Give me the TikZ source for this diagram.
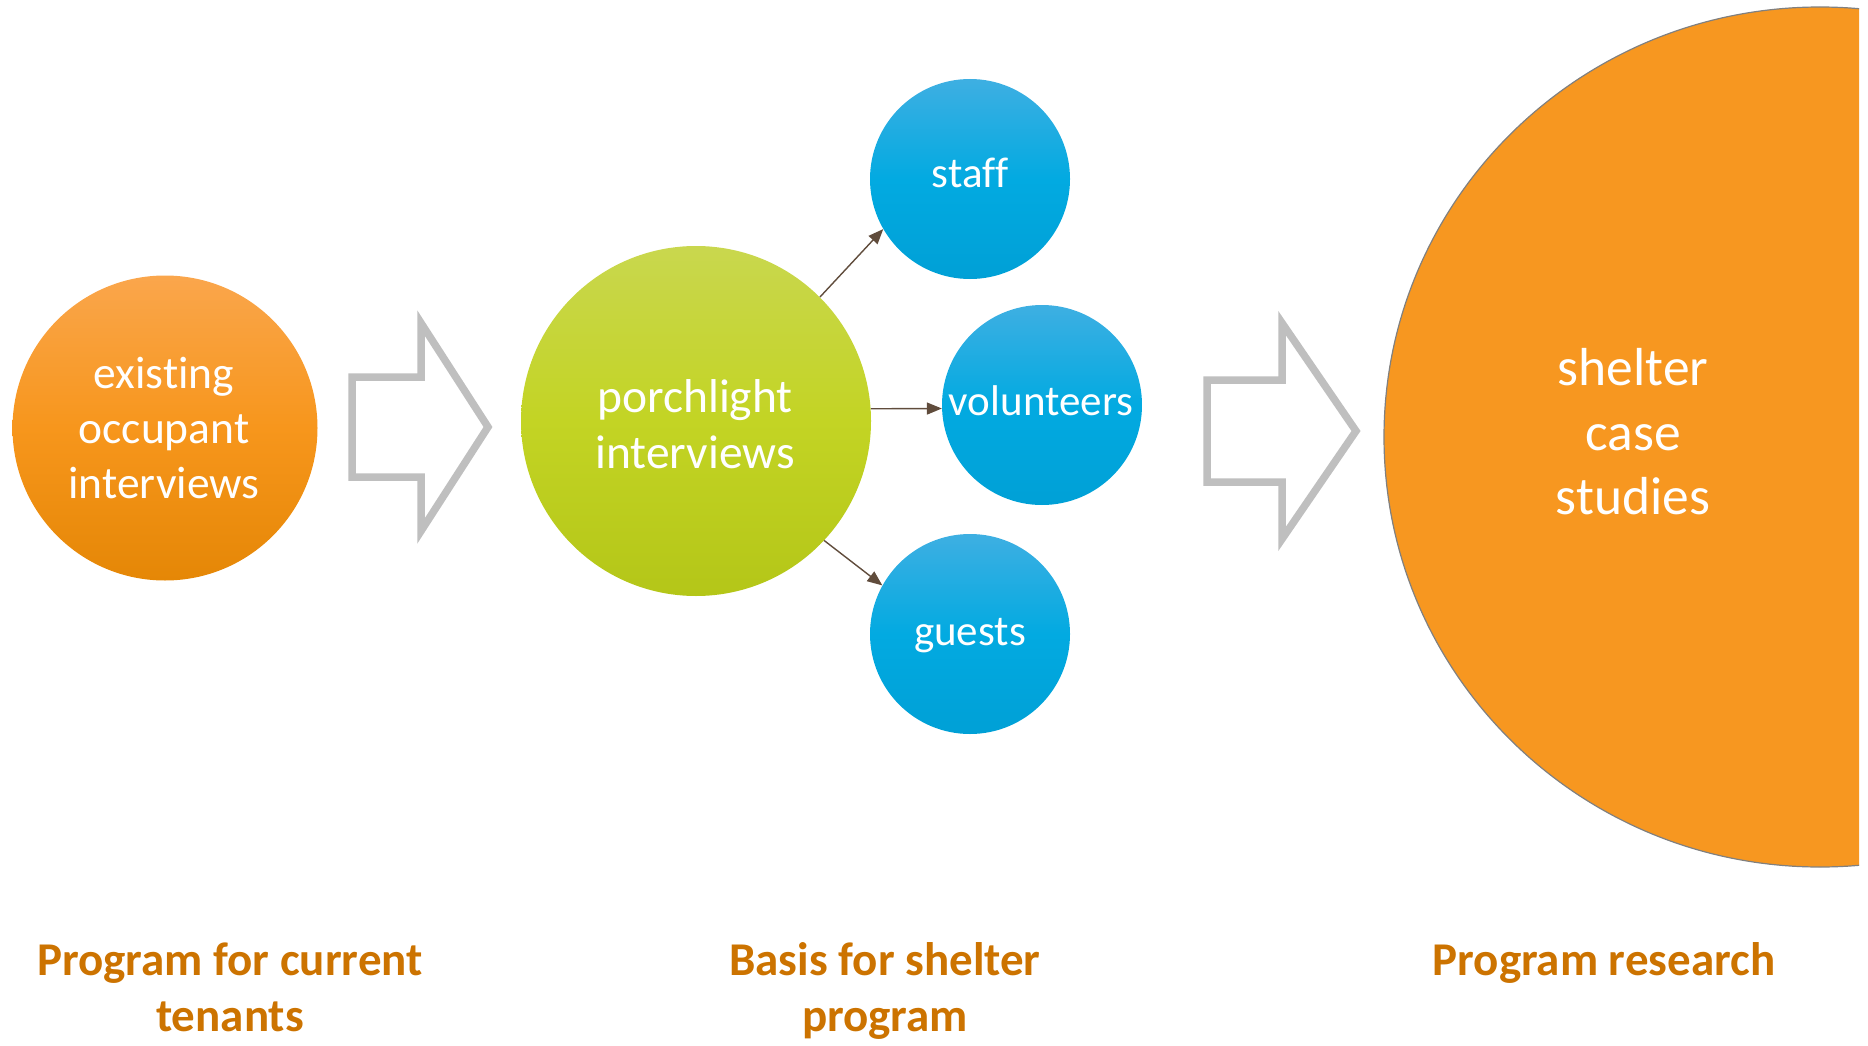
\documentclass[tikz,border=0pt]{standalone}
\usepackage{fontspec}
\setmainfont{Carlito}[Ligatures=NoCommon]
\usetikzlibrary{arrows.meta,shapes.geometric}
\definecolor{orTop}{RGB}{250,166,76}
\definecolor{orMid}{RGB}{247,150,28}
\definecolor{orBot}{RGB}{229,135,6}
\definecolor{grTop}{RGB}{201,215,78}
\definecolor{grMid}{RGB}{195,212,36}
\definecolor{grBot}{RGB}{180,198,24}
\definecolor{blTop}{RGB}{62,175,226}
\definecolor{blMid}{RGB}{2,170,225}
\definecolor{blBot}{RGB}{0,160,214}
\definecolor{bigOr}{RGB}{247,151,32}
\definecolor{bigEdge}{RGB}{128,128,128}
\definecolor{connBrown}{RGB}{96,76,60}
\definecolor{arrGray}{RGB}{191,191,191}
\definecolor{lblOr}{RGB}{204,115,0}
\begin{document}
\begin{tikzpicture}[x=1pt,y=-1pt,
  blob/.style={circle, inner sep=0pt, draw=none},
  orblob/.style={blob, top color=orTop, bottom color=orBot, middle color=orMid},
  grblob/.style={blob, top color=grTop, bottom color=grBot, middle color=grMid},
  blblob/.style={blob, top color=blTop, bottom color=blBot, middle color=blMid, minimum size=200pt},
  txt/.style={anchor=base, inner sep=0pt, text=white},
  lbl/.style={anchor=base, inner sep=0pt, text=lblOr, font=\bfseries\fontsize{47}{57}\selectfont},
  conn/.style={draw=connBrown, line width=1.4pt, -{Triangle[length=15pt,width=12pt]}},
  blockarrow/.style={draw=arrGray, line width=7.5pt, fill=white, line join=miter, miter limit=10}
]
\useasboundingbox (0,0) rectangle (1868,1046);

% big circle, clipped at right
\begin{scope}
  \clip (0,0) rectangle (1859,1046);
  \node[ellipse, inner sep=0pt, minimum width=872pt, minimum height=860pt, fill=bigOr, draw=bigEdge, line width=1.2pt] (big) at (1820,437) {};
\end{scope}

% circles
\node[orblob, minimum size=305pt] (occ) at (165,428) {};
\node[grblob, minimum size=350pt] (porch) at (696,421) {};
\node[blblob] (staff) at (970,179) {};
\node[blblob] (vol) at (1042,405) {};
\node[blblob] (guests) at (970,634) {};

% block arrows
\draw[blockarrow] (352,377) -- (421,377) -- (421,323) -- (488,427) -- (421,531) -- (421,477) -- (352,477) -- cycle;
\draw[blockarrow] (1207,380) -- (1282,380) -- (1282,323) -- (1356,431) -- (1282,539) -- (1282,482) -- (1207,482) -- cycle;

% connectors
\draw[conn] (porch.45) -- (staff.210);
\draw[conn] (porch.4) -- (vol.182);
\draw[conn] (porch.-43) -- (guests.151);

% texts in circles
\begin{scope}[every node/.append style={font=\fontsize{45.5}{55}\selectfont}]
\node[txt] (t1a) at (164,388) {existing};
\node[txt] (t1b) at (164,443) {occupant};
\node[txt] (t1c) at (164,498) {interviews};
\end{scope}
\begin{scope}[every node/.append style={font=\fontsize{47.5}{57}\selectfont}]
\node[txt] (t2a) at (695,412) {porchlight};
\node[txt] (t2b) at (695,468) {interviews};
\end{scope}
\begin{scope}[every node/.append style={font=\fontsize{43}{52}\selectfont}]
\node[txt] (t3) at (970,187) {staff};
\node[txt] (t4) at (1041,415) {volunteers};
\node[txt] (t5) at (970,645) {guests};
\end{scope}
\begin{scope}[every node/.append style={font=\fontsize{53.5}{64}\selectfont}]
\node[txt] (t6a) at (1633,385) {shelter};
\node[txt] (t6b) at (1633,450) {case};
\node[txt] (t6c) at (1633,514) {studies};
\end{scope}

% bottom labels
\node[lbl] (l1a) at (230,975) {Program for current};
\node[lbl] (l1b) at (230,1031) {tenants};
\node[lbl] (l2a) at (885,975) {Basis for shelter};
\node[lbl] (l2b) at (885,1031) {program};
\node[lbl] (l3) at (1604,975) {Program research};
\end{tikzpicture}
\end{document}
